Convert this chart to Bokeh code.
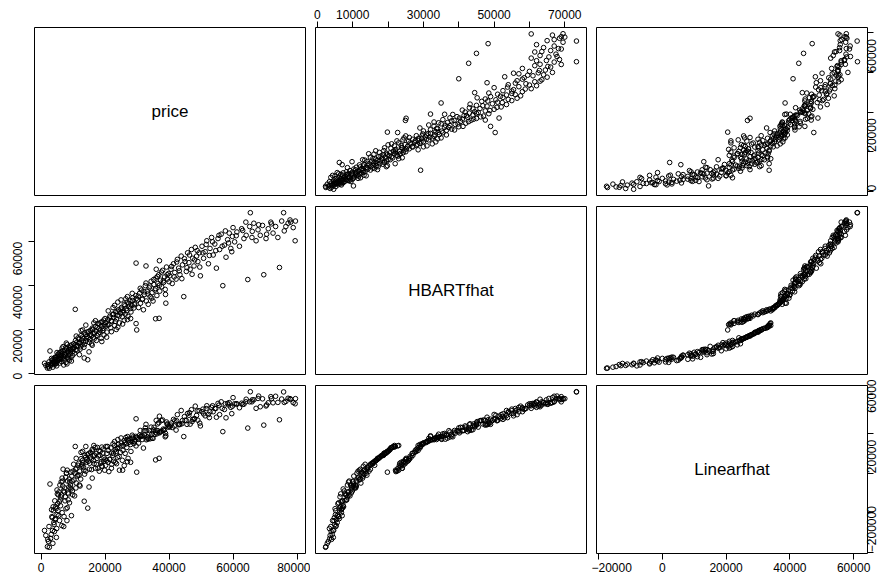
import math
from bokeh.plotting import figure
from bokeh.layouts import gridplot
from bokeh.models import Range1d, LinearAxis, FixedTicker, Label
from bokeh.embed import file_html
from bokeh.resources import INLINE

var_names = ["price", "HBARTfhat", "Linearfhat"]

price = [
    1100, 2000, 2600, 2300, 2800, 3000, 3200, 2500, 3500, 3700,
    4000, 4200, 4500, 4800, 3300, 4600, 2100, 3900, 4900, 1500,
    5200, 5500, 5800, 6000, 6200, 6500, 6700, 7000, 7200, 7400,
    7600, 7800, 8000, 8200, 8400, 8600, 8800, 9000, 9200, 9400,
    9600, 9800, 10000, 5400, 6900, 7900, 8900, 9500, 10700, 6300,
    8100, 7100, 10200, 10500, 10800, 11000, 11300, 11600, 11900, 12200,
    12500, 12800, 13100, 13400, 13700, 14000, 14300, 14600, 14900, 15200,
    15500, 15800, 16100, 16400, 16700, 17000, 17300, 17600, 17900, 18200,
    18500, 18800, 19100, 19400, 19700, 20000, 12000, 15000, 13500, 16000,
    12500, 14000, 16500, 19000, 20300, 20600, 20900, 21200, 21500, 21800,
    22100, 22400, 22700, 23000, 23300, 23600, 23900, 24200, 24500, 24800,
    25100, 25400, 25700, 26000, 26300, 26600, 26900, 27200, 27500, 27800,
    28100, 28400, 28700, 29000, 29300, 29600, 29900, 29700, 29700, 20500,
    22000, 24000, 26000, 28000, 23000, 27000, 25000, 30200, 30500, 30800,
    31100, 31400, 31700, 32000, 32300, 32600, 32900, 33200, 33500, 33800,
    34100, 34400, 34700, 35000, 35300, 35600, 35900, 36200, 36500, 36800,
    37100, 37400, 37700, 38000, 38300, 38600, 38900, 39200, 39500, 39800,
    35800, 36900, 32800, 37000, 39000, 40200, 40600, 41000, 41400, 41800,
    42200, 42600, 43000, 43400, 43800, 44200, 44600, 45000, 45400, 45800,
    46200, 46600, 47000, 47400, 47800, 48200, 48600, 49000, 49400, 49800,
    50300, 50800, 51300, 51800, 52300, 52800, 53300, 53800, 54300, 54800,
    55300, 55800, 56300, 56800, 57300, 57800, 58300, 58800, 59300, 59800,
    60500, 61200, 62000, 62700, 63400, 64100, 64600, 65200, 65900, 66500,
    67200, 67800, 68500, 69200, 69600, 70300, 71000, 71800, 72500, 73300,
    74000, 74500, 75200, 75800, 76500, 77200, 78000, 78800, 79500, 79400,
    65400,
    3400, 3600, 3800, 4100, 4300, 4400, 4700, 5000, 5100, 5300,
    5600, 5700, 5900, 6100, 6400, 6600, 6800, 7300, 7500, 7700,
    8300, 8500, 8700, 9100, 9300, 9700, 9900, 6600, 5000, 8200,
    10300, 10600, 10900, 11200, 11500, 11800, 12100, 12400, 12700, 13000,
    13300, 13600, 13900, 14200, 14500, 14800, 15100, 15400, 15700, 16000,
    16300, 16600, 16900, 17200, 17500, 17800, 18100, 18400, 18700, 19000,
    19300, 19600, 19900, 11000, 13000, 20200, 20800, 21400, 22000, 22600,
    23200, 23800, 24400, 25000, 25600, 26200, 26800, 27400, 28000, 28600,
    29200, 29800, 21000, 24000, 27000, 25500, 22500, 28500, 26500, 23500,
    30400, 31000, 31600, 32200, 32800, 33400, 34000, 34600, 35200, 35800,
    36400, 37000, 37600, 38200, 38800, 39400, 40000, 40800, 41600, 42400,
    43200, 44000, 44800, 45600, 46400, 47200, 48000, 48800, 49600, 36000,
    50600, 51600, 52600, 53600, 54600, 55600, 56600, 57600, 58600, 59600,
    61000, 63000, 66000, 68000, 70500, 72000, 64000, 60000, 76000, 77800,
]

hbart = [
    4600, 2400, 2300, 3100, 10200, 3500, 4200, 5200, 4800, 2800,
    5600, 3900, 6200, 4500, 6800, 7400, 4000, 5200, 3400, 3600,
    5800, 7000, 4700, 8200, 6400, 5300, 9000, 7600, 6100, 10500,
    8500, 5000, 11200, 7100, 9600, 6600, 12000, 8800, 10800, 7300,
    13000, 9900, 11500, 8900, 12200, 13800, 6000, 5600, 29200, 10000,
    4300, 3800, 13500, 9200, 15000, 12300, 10300, 16200, 14000, 11000,
    17200, 13000, 15800, 11900, 18500, 14600, 16800, 6200, 19000, 15400,
    17800, 13400, 20000, 16500, 18400, 24000, 15000, 21000, 18000, 22500,
    19800, 16000, 23500, 20500, 17500, 25000, 8500, 9800, 7000, 12800,
    19500, 22000, 23000, 14500, 21500, 18800, 24500, 22200, 26000, 20800,
    23800, 27000, 25500, 21800, 28000, 24800, 26500, 29000, 23000, 27500,
    30000, 25800, 28500, 31500, 27000, 29500, 32500, 26000, 30500, 33000,
    28000, 31000, 34500, 29800, 32000, 35500, 19800, 22700, 50300, 16500,
    19000, 21000, 24200, 25000, 31000, 35000, 33500, 33500, 30000, 36500,
    32000, 38000, 34000, 29000, 36000, 40000, 33000, 37500, 31500, 39000,
    35000, 42000, 36800, 33000, 40500, 38000, 43500, 35500, 41000, 45000,
    37500, 42500, 39500, 47000, 41500, 44000, 36000, 48500, 43000, 45500,
    24900, 25100, 49000, 51400, 32000, 44500, 47500, 41000, 50000, 46000,
    43000, 52000, 48000, 45000, 53500, 49500, 35000, 51000, 46500, 55000,
    50500, 47500, 56500, 52500, 49000, 57500, 53500, 51000, 55000, 44500,
    58000, 52500, 55500, 60500, 50000, 57000, 62000, 54000, 59000, 48000,
    61500, 56500, 63500, 40000, 58500, 53000, 61000, 64000, 57000, 62500,
    60000, 64500, 58000, 66000, 61500, 63000, 42800, 67000, 62000, 68500,
    60500, 65500, 63000, 67500, 45000, 61500, 66000, 69000, 64000, 67000,
    62000, 48300, 69500, 73300, 67000, 68500, 69000, 66500, 69500, 60500,
    73300,
    5900, 4400, 6500, 4900, 7200, 5400, 6900, 5100, 7800, 6300,
    8600, 6700, 9400, 7300, 8000, 6800, 10200, 8900, 7800, 11700,
    10100, 8300, 10900, 9700, 12500, 11000, 8200, 11500, 9500, 13200,
    11800, 12900, 10800, 14200, 12600, 15600, 13700, 12100, 15100, 16600,
    14300, 13200, 17600, 15900, 18900, 16300, 14100, 19600, 17100, 20600,
    18200, 15700, 21300, 19200, 17300, 22800, 20300, 18700, 23300, 21700,
    19500, 24300, 22100, 17000, 19800, 23200, 22000, 25200, 24000, 26800,
    23700, 28300, 26200, 29300, 27700, 30800, 28600, 31800, 29600, 33200,
    31300, 34200, 28500, 32500, 24500, 22500, 30000, 36500, 34000, 20000,
    35200, 38800, 33700, 37200, 41200, 36200, 39800, 34300, 42800, 38700,
    44200, 40200, 46200, 42200, 38300, 45000, 41800, 48800, 44000, 50800,
    46800, 43200, 52300, 48200, 54000, 45200, 51800, 56000, 48500, 47500,
    55000, 58800, 53800, 60000, 56000, 63000, 58000, 65000, 59500, 55500,
    62800, 65200, 64800, 67800, 63500, 68200, 69000, 66500, 65000, 70000,
]

linear = [
    -9000, -17200, -17500, -14500, 14500, -13000, -11000, -7000, -2500, -15500,
    -5000, -9500, -3000, -12500, 1500, 3000, -13500, 1000, -8000, -11500,
    4500, -1500, -4000, 6500, 8000, -6500, 16000, 11000, -2000, 12500,
    8000, 2000, 20000, 2500, 10000, 9500, 17000, 15500, 14000, 12000,
    18500, 11000, 21000, 9000, 22000, 20000, 5000, -1500, 33500, 15600,
    -4000, -7000, 24500, 8500, 22000, 15000, 18500, 24000, 19000, 13500,
    27300, 23500, 25200, 21500, 29000, 21000, 26800, 2300, 29800, 25000,
    28200, 21800, 31200, 26400, 29100, 22500, 24500, 33000, 28700, 21000,
    31000, 25800, 23500, 32200, 27800, 27000, 14000, 13000, 5800, 17500,
    30500, 33500, 34000, 23600, 33500, 30000, 25500, 20800, 27000, 32800,
    24500, 29000, 26000, 34000, 32000, 24800, 28000, 34500, 21500, 30500,
    35200, 26500, 34000, 36500, 30000, 34800, 37000, 27500, 35600, 37400,
    31000, 36000, 38300, 35000, 36800, 38600, 20500, 33800, 47500, 26500,
    30200, 33000, 23800, 25500, 36000, 38500, 37800, 37800, 35200, 39200,
    38500, 38800, 38800, 32700, 39300, 42900, 36900, 38300, 37600, 40200,
    37400, 43300, 37700, 37600, 43200, 39600, 41700, 39900, 41500, 45500,
    40800, 41000, 41300, 46900, 41600, 42000, 40100, 45900, 44500, 43300,
    26700, 27500, 44700, 48800, 38900, 43400, 44300, 43100, 47200, 46500,
    41800, 49600, 44500, 44600, 51700, 46600, 38500, 46800, 46600, 50200,
    49300, 44800, 52100, 47200, 47300, 53900, 49200, 46800, 51600, 43900,
    51100, 50000, 49000, 54100, 49700, 51000, 53300, 51100, 52700, 48300,
    55300, 49600, 56100, 41000, 52200, 48000, 55300, 55700, 53300, 53900,
    55100, 55100, 53100, 55400, 54900, 57400, 42800, 56100, 56100, 57100,
    52800, 57800, 53600, 57600, 44300, 54000, 55600, 58700, 55600, 58900,
    55800, 47000, 57500, 61100, 56300, 57900, 57300, 55700, 57700, 55100,
    61200,
    -2000, -9000, 3000, -6000, 6000, -3500, 2000, -1000, 9500, 1000,
    10500, 5500, 14000, 3500, 9000, 0, 13500, 10500, 6000, 18000,
    16000, 6500, 13000, 12500, 20500, 16000, 9000, 17500, 11500, 21500,
    16500, 20000, 12500, 22500, 19000, 25000, 21000, 17000, 24200, 26500,
    23000, 19500, 28000, 25500, 29500, 26000, 22000, 30500, 27200, 32000,
    28800, 24800, 33000, 30000, 27500, 22500, 31500, 29000, 25000, 33200,
    30200, 26000, 21500, 27500, 31000, 24000, 33500, 27000, 22500, 30000,
    25500, 32500, 28500, 33800, 31500, 35500, 33000, 36500, 34500, 37500,
    36000, 38000, 31500, 37000, 25800, 21500, 34800, 39200, 38000, 31000,
    37100, 41600, 37000, 41500, 41500, 37200, 41500, 39700, 41900, 40700,
    44900, 40400, 46600, 42300, 38400, 44900, 43900, 45400, 43900, 46500,
    44900, 45000, 48600, 44700, 50600, 46100, 47600, 51500, 45300, 46700,
    52400, 52700, 48100, 54100, 52700, 54400, 52800, 55100, 54500, 50100,
    55000, 54800, 57100, 59000, 54500, 57700, 56100, 58200, 55800, 57700,
]

ticks_price = [0, 20000, 40000, 60000, 80000]
ticks_hbart_top = [0, 10000, 20000, 30000, 40000, 50000, 60000, 70000]
ticks_hbart_left = [0, 20000, 40000, 60000]
ticks_linear = [-20000, 0, 20000, 40000, 60000]

assert len(price) == len(hbart) == len(linear)
data = [price, hbart, linear]


def pad_range(v):
    lo, hi = min(v), max(v)
    r = hi - lo
    return Range1d(lo - 0.04 * r, hi + 0.04 * r)


def label_map(ticks, hidden=()):
    out = {}
    for t in ticks:
        out[t] = "" if t in hidden else (str(t).replace("-", "\u2212"))
    return out


FONT = "Liberation Sans"


def make_axis(ticks, hidden=(), standoff=3, orient="horizontal"):
    ax = LinearAxis(
        ticker=FixedTicker(ticks=ticks, minor_ticks=[]),
        bounds=(min(ticks), max(ticks)),
        major_label_overrides=label_map(ticks, hidden),
        major_tick_out=6,
        major_tick_in=0,
        minor_tick_out=0,
        minor_tick_in=0,
        axis_line_color="black",
        major_tick_line_color="black",
        major_label_text_font=FONT,
        major_label_text_font_size="12px",
        major_label_text_color="black",
        major_label_standoff=standoff,
        major_label_orientation=orient,
    )
    return ax


left_b = [34, 5, 5]
right_b = [5, 5, 16]
top_b = [27, 6, 6]
bottom_b = [5, 5, 23]

rows = []
for i in range(3):
    row = []
    for j in range(3):
        xr = pad_range(data[j])
        yr = pad_range(data[i])
        p = figure(
            frame_width=271, frame_height=168,
            x_range=xr, y_range=yr,
            x_axis_location=None, y_axis_location=None,
            output_backend="svg", toolbar_location=None,
            min_border_left=left_b[j], min_border_right=right_b[j],
            min_border_top=top_b[i], min_border_bottom=bottom_b[i],
        )
        p.grid.visible = False
        p.outline_line_color = "black"
        p.outline_line_width = 1
        p.outline_line_alpha = 1
        p.background_fill_color = "white"
        p.border_fill_color = "white"
        if i == j:
            lab = Label(
                x=(xr.start + xr.end) / 2, y=(yr.start + yr.end) / 2,
                text=var_names[i], text_align="center", text_baseline="middle",
                text_font=FONT, text_font_size="17px", text_color="black",
            )
            p.add_layout(lab)
        else:
            p.scatter(data[j], data[i], marker="circle", size=4.6,
                      fill_color=None, line_color="black", line_width=1)
        row.append(p)
    rows.append(row)

# axes as in R's pairs(): alternating sides
rows[0][1].add_layout(make_axis(ticks_hbart_top, hidden=(20000, 40000, 60000)), "above")
rows[0][2].add_layout(make_axis(ticks_price, hidden=(40000, 80000), standoff=-2,
                                orient=math.pi / 2), "right")
rows[1][0].add_layout(make_axis(ticks_hbart_left, standoff=11,
                                orient=math.pi / 2), "left")
rows[2][0].add_layout(make_axis(ticks_price), "below")
rows[2][2].add_layout(make_axis(ticks_linear), "below")
rows[2][2].add_layout(make_axis(ticks_linear, hidden=(40000,), standoff=-2,
                                orient=math.pi / 2), "right")

grid = gridplot(rows, toolbar_location=None)

html = file_html(grid, INLINE)
html = html.replace("<head>", "<head><style>html,body{margin:0;overflow:hidden;}</style>", 1)
open("out.html", "w").write(html)
